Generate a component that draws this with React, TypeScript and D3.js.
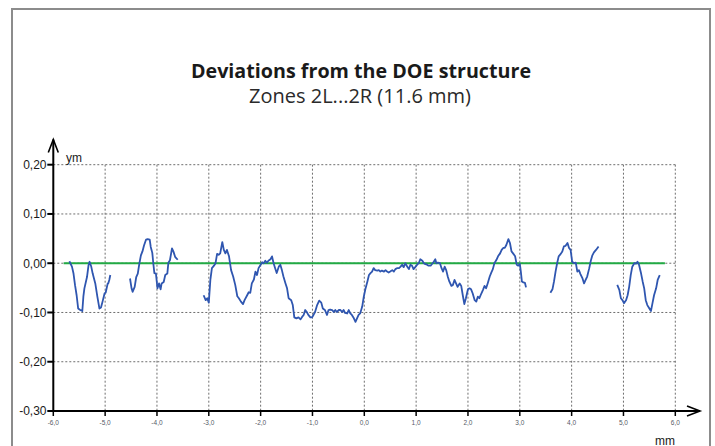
import React from "react";
import * as d3 from "d3";

// Measured profile, split into the scanned zones (x in mm, deviation in µm-scale units)
const zone1: [number, number][] = [
  [-5.69, 0.004], [-5.64, -0.007], [-5.61, -0.021], [-5.58, -0.045], [-5.55, -0.065],
  [-5.52, -0.092], [-5.48, -0.095], [-5.44, -0.097], [-5.42, -0.068], [-5.40, -0.051],
  [-5.35, -0.028], [-5.32, -0.004], [-5.30, 0.003], [-5.27, -0.006], [-5.24, -0.021],
  [-5.19, -0.041], [-5.15, -0.068], [-5.11, -0.092], [-5.08, -0.090], [-5.05, -0.078],
  [-5.01, -0.061], [-4.99, -0.060], [-4.95, -0.041], [-4.94, -0.041], [-4.92, -0.034],
  [-4.90, -0.024],
];

const zone2: [number, number][] = [
  [-4.52, -0.031], [-4.49, -0.051], [-4.47, -0.058], [-4.43, -0.048], [-4.40, -0.028],
  [-4.37, -0.021], [-4.34, -0.001], [-4.31, 0.016], [-4.28, 0.024], [-4.25, 0.036],
  [-4.21, 0.048], [-4.18, 0.049], [-4.14, 0.048], [-4.12, 0.033], [-4.09, 0.021],
  [-4.07, -0.001], [-4.05, -0.020], [-4.02, -0.021], [-3.99, -0.051], [-3.96, -0.041],
  [-3.93, -0.053], [-3.91, -0.041], [-3.87, -0.038], [-3.84, -0.024], [-3.80, -0.021],
  [-3.78, 0.001], [-3.75, 0.006], [-3.71, 0.030], [-3.68, 0.023], [-3.65, 0.013],
  [-3.60, 0.007],
];

const zone3: [number, number][] = [
  [-3.10, -0.065], [-3.06, -0.075], [-3.03, -0.071], [-3.00, -0.080], [-2.97, -0.034],
  [-2.94, -0.010], [-2.90, -0.005], [-2.87, 0.000], [-2.84, 0.019], [-2.81, 0.017],
  [-2.78, 0.020], [-2.74, 0.043], [-2.71, 0.027], [-2.68, 0.020], [-2.65, 0.027],
  [-2.61, 0.014], [-2.57, -0.014], [-2.53, -0.027], [-2.49, -0.044], [-2.45, -0.067],
  [-2.42, -0.071], [-2.38, -0.078], [-2.34, -0.083], [-2.31, -0.075], [-2.26, -0.065],
  [-2.23, -0.059], [-2.20, -0.060], [-2.17, -0.041], [-2.13, -0.033], [-2.10, -0.017],
  [-2.07, -0.024], [-2.04, -0.010], [-2.00, -0.003], [-1.97, 0.002], [-1.94, 0.000],
  [-1.91, 0.005], [-1.88, 0.001], [-1.85, 0.005], [-1.81, 0.008], [-1.78, 0.014],
  [-1.75, 0.000], [-1.72, -0.010], [-1.69, -0.020], [-1.65, -0.007], [-1.62, -0.003],
  [-1.59, -0.014], [-1.56, -0.027], [-1.52, -0.041], [-1.49, -0.051], [-1.46, -0.071],
  [-1.41, -0.075], [-1.38, -0.085], [-1.35, -0.110], [-1.31, -0.112], [-1.27, -0.110],
  [-1.23, -0.114], [-1.20, -0.109], [-1.17, -0.105], [-1.14, -0.095], [-1.11, -0.099],
  [-1.08, -0.105], [-1.04, -0.110], [-1.01, -0.110], [-0.98, -0.105], [-0.95, -0.099],
  [-0.91, -0.085], [-0.87, -0.076], [-0.83, -0.080], [-0.80, -0.092], [-0.76, -0.095],
  [-0.72, -0.105], [-0.69, -0.095], [-0.66, -0.094], [-0.62, -0.095], [-0.59, -0.099],
  [-0.56, -0.095], [-0.53, -0.099], [-0.49, -0.095], [-0.46, -0.095], [-0.43, -0.099],
  [-0.40, -0.095], [-0.37, -0.101], [-0.33, -0.102], [-0.30, -0.095], [-0.27, -0.102],
  [-0.24, -0.105], [-0.21, -0.110], [-0.17, -0.119], [-0.14, -0.112], [-0.11, -0.105],
  [-0.08, -0.102], [-0.04, -0.088], [-0.01, -0.068], [0.02, -0.053], [0.06, -0.037],
  [0.09, -0.024], [0.12, -0.020], [0.15, -0.017], [0.18, -0.010], [0.21, -0.014],
  [0.25, -0.015], [0.28, -0.014], [0.31, -0.017], [0.34, -0.015], [0.38, -0.017],
  [0.41, -0.014], [0.44, -0.017], [0.47, -0.019], [0.50, -0.017], [0.54, -0.014],
  [0.57, -0.017], [0.60, -0.012], [0.63, -0.010], [0.67, -0.010], [0.70, -0.007],
  [0.73, -0.003], [0.76, -0.008], [0.79, 0.000], [0.83, -0.007], [0.86, -0.012],
  [0.89, -0.003], [0.92, -0.005], [0.95, -0.012], [0.99, -0.007], [1.02, -0.003],
  [1.05, 0.000], [1.08, 0.008], [1.12, 0.005], [1.15, 0.000], [1.18, -0.002],
  [1.21, -0.003], [1.24, -0.005], [1.28, -0.005], [1.31, -0.001], [1.34, 0.003],
  [1.37, 0.008], [1.39, 0.000], [1.42, 0.001], [1.46, 0.000], [1.49, -0.010],
  [1.52, -0.017], [1.55, -0.007], [1.58, -0.014], [1.61, -0.027], [1.64, -0.037],
  [1.68, -0.046], [1.71, -0.044], [1.74, -0.034], [1.77, -0.041], [1.80, -0.048],
  [1.84, -0.041], [1.87, -0.046], [1.90, -0.065], [1.93, -0.083], [1.96, -0.071],
  [2.00, -0.053], [2.03, -0.051], [2.06, -0.053], [2.09, -0.061], [2.13, -0.075],
  [2.16, -0.078], [2.19, -0.068], [2.22, -0.071], [2.26, -0.061], [2.29, -0.054],
  [2.32, -0.046], [2.35, -0.051], [2.38, -0.041], [2.42, -0.027], [2.45, -0.019],
  [2.48, -0.012], [2.51, 0.000], [2.55, 0.007], [2.58, 0.014], [2.62, 0.020],
  [2.65, 0.027], [2.68, 0.031], [2.71, 0.031], [2.74, 0.037], [2.78, 0.049],
  [2.81, 0.041], [2.84, 0.024], [2.87, 0.020], [2.91, 0.014], [2.94, -0.003],
  [2.97, -0.005], [3.00, -0.001], [3.02, -0.017], [3.04, -0.037], [3.07, -0.039],
  [3.10, -0.040], [3.12, -0.049],
];

const zone4: [number, number][] = [
  [3.59, -0.060], [3.63, -0.053], [3.66, -0.037], [3.69, -0.017], [3.72, 0.000],
  [3.75, 0.014], [3.79, 0.019], [3.82, 0.024], [3.85, 0.034], [3.88, 0.035],
  [3.92, 0.041], [3.95, 0.031], [3.98, 0.027], [4.01, 0.003], [4.05, 0.000],
  [4.08, 0.001], [4.11, -0.017], [4.14, -0.014], [4.17, -0.022], [4.21, -0.031],
  [4.24, -0.041], [4.27, -0.034], [4.30, -0.027], [4.34, -0.010], [4.37, 0.005],
  [4.40, 0.016], [4.43, 0.022], [4.47, 0.027], [4.52, 0.034],
];

const zone5: [number, number][] = [
  [4.88, -0.044], [4.92, -0.054], [4.95, -0.071], [4.98, -0.075], [5.01, -0.081],
  [5.05, -0.075], [5.08, -0.065], [5.11, -0.048], [5.14, -0.024], [5.17, -0.007],
  [5.21, 0.000], [5.24, -0.001], [5.27, 0.003], [5.30, -0.003], [5.34, -0.021],
  [5.37, -0.037], [5.40, -0.051], [5.43, -0.075], [5.46, -0.085], [5.50, -0.092],
  [5.53, -0.097], [5.56, -0.081], [5.59, -0.065], [5.63, -0.051], [5.66, -0.034],
  [5.70, -0.024],
];

const profileZones = [zone1, zone2, zone3, zone4, zone5];

// Nominal structure: zero deviation over the 11.6 mm span
const nominal: [number, number][] = [[-5.8, 0], [5.8, 0]];

const xTicks = [-6, -5, -4, -3, -2, -1, 0, 1, 2, 3, 4, 5, 6];
const yTicks = [-0.3, -0.2, -0.1, 0, 0.1, 0.2];

const W = 715;
const H = 446;

const fmtX = (v: number) => d3.format(".1f")(v).replace(".", ",").replace("−", "-");
const fmtY = (v: number) => d3.format(".2f")(v).replace(".", ",").replace("−", "-");

export default function App() {
  const x = d3.scaleLinear().domain([-6, 6]).range([53.3, 675.3]);
  const y = d3.scaleLinear().domain([-0.3, 0.2]).range([411, 164.7]);
  const line = d3
    .line<[number, number]>()
    .x((d) => x(d[0]))
    .y((d) => y(d[1]));

  const x0 = x(-6);
  const y0 = y(-0.3);
  const xEnd = 700;
  const yEnd = 139.5;
  const grid = "#6e6e6e";
  const sans = "'Liberation Sans', Arial, sans-serif";
  const title = "'Open Sans', 'Noto Sans', sans-serif";

  return (
    <svg
      width={W}
      height={H}
      viewBox={`0 0 ${W} ${H}`}
      style={{ position: "absolute", left: 0, top: 0, display: "block", background: "#fff" }}
    >
      {/* outer frame */}
      <rect x={12} y={9} width={698} height={460} fill="none" stroke="#8c8c8c" strokeWidth={2} />

      <text x={361} y={78} textAnchor="middle" fontFamily={title} fontWeight={700} fontSize={19.7} fill="#1a1a1a">
        Deviations from the DOE structure
      </text>
      <text x={360} y={103} textAnchor="middle" fontFamily={title} fontWeight={400} fontSize={20} fill="#2a2a2a">
        Zones 2L...2R (11.6 mm)
      </text>

      {/* dotted grid */}
      <g stroke={grid} strokeWidth={1} strokeDasharray="2,2" fill="none">
        {yTicks
          .filter((t) => t > -0.3)
          .map((t) => (
            <line key={`gy${t}`} x1={x0} x2={x(6)} y1={y(t)} y2={y(t)} />
          ))}
        {xTicks
          .filter((t) => t > -6)
          .map((t) => (
            <line key={`gx${t}`} x1={x(t)} x2={x(t)} y1={y(0.2)} y2={y0} />
          ))}
      </g>

      {/* nominal line */}
      <path d={line(nominal) ?? ""} stroke="#22aa44" strokeWidth={2} fill="none" />

      {/* measured profile */}
      {profileZones.map((z, i) => (
        <path
          key={`z${i}`}
          d={line(z) ?? ""}
          stroke="#2f56b0"
          strokeWidth={1.8}
          fill="none"
          strokeLinejoin="round"
        />
      ))}

      {/* axes with arrow heads */}
      <g stroke="#000" strokeWidth={2} fill="none">
        <line x1={x0} x2={x0} y1={y0 + 1} y2={yEnd} />
        <line x1={x0 - 1} x2={xEnd} y1={y0} y2={y0} />
        <polyline points={`${x0 - 5},${yEnd + 13} ${x0},${yEnd} ${x0 + 5},${yEnd + 13}`} strokeWidth={1.6} />
        <polyline points={`${xEnd - 13},${y0 - 5} ${xEnd},${y0} ${xEnd - 13},${y0 + 5}`} strokeWidth={1.6} />
      </g>

      {/* y ticks */}
      {yTicks.map((t) => (
        <g key={`yt${t}`}>
          <line x1={x0 - 6} x2={x0} y1={y(t)} y2={y(t)} stroke="#000" strokeWidth={2} />
          <text x={46.5} y={y(t) + 4.3} textAnchor="end" fontFamily={sans} fontSize={12} fill="#1a1a1a">
            {fmtY(t)}
          </text>
        </g>
      ))}

      {/* x ticks */}
      {xTicks.map((t) => (
        <g key={`xt${t}`}>
          <line x1={x(t)} x2={x(t)} y1={y0} y2={y0 + 5} stroke="#000" strokeWidth={1.5} />
          <text x={x(t)} y={425} textAnchor="middle" fontFamily={sans} fontSize={6.5} fill="#555a66">
            {fmtX(t)}
          </text>
        </g>
      ))}

      <text x={66} y={162} fontFamily={sans} fontSize={12} fill="#1a1a1a">
        ym
      </text>
      <text x={665} y={445} textAnchor="middle" fontFamily={sans} fontSize={12} fill="#1a1a1a">
        mm
      </text>
    </svg>
  );
}
